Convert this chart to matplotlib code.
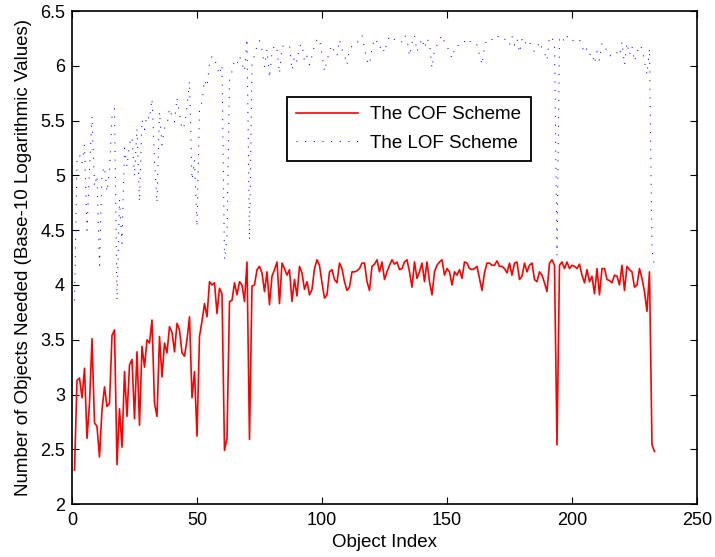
import matplotlib
matplotlib.use("Agg")
import matplotlib.pyplot as plt
import numpy as np

# ── data ──────────────────────────────────────────────────────────────────────

object_index = np.arange(1, 234)

cof_scheme = [
    2.31, 3.13, 3.15, 2.97, 3.24, 2.60, 2.92, 3.51, 2.74, 2.71,
    2.43, 2.86, 3.07, 2.89, 2.92, 3.54, 3.59, 2.36, 2.87, 2.52,
    3.21, 2.80, 3.27, 3.32, 2.78, 3.39, 2.72, 3.44, 3.25, 3.50,
    3.47, 3.68, 2.92, 2.80, 3.53, 3.16, 3.47, 3.38, 3.62, 3.57,
    3.39, 3.65, 3.59, 3.38, 3.35, 3.50, 3.71, 2.97, 3.21, 2.62,
    3.53, 3.67, 3.83, 3.71, 4.03, 4.00, 4.02, 3.74, 3.97, 3.92,
    2.49, 2.60, 3.85, 3.86, 4.02, 3.91, 4.03, 4.00, 3.85, 4.21,
    2.59, 3.99, 4.00, 4.14, 4.17, 4.11, 3.94, 4.12, 3.82, 4.08,
    4.14, 4.21, 3.83, 4.20, 4.15, 4.09, 4.14, 3.85, 4.05, 3.90,
    4.17, 4.11, 3.96, 4.03, 3.91, 3.96, 4.15, 4.23, 4.18, 4.02,
    3.88, 3.91, 4.12, 4.14, 4.05, 4.02, 4.20, 4.15, 4.03, 3.95,
    3.98, 4.12, 4.12, 4.13, 4.15, 4.20, 4.20, 4.03, 3.95, 4.17,
    4.19, 4.23, 4.12, 4.21, 4.05, 4.12, 4.18, 4.23, 4.19, 4.21,
    4.14, 4.15, 4.21, 4.23, 4.12, 3.98, 4.21, 4.06, 4.12, 4.20,
    4.03, 4.21, 4.03, 3.91, 4.12, 4.18, 4.21, 4.23, 4.09, 4.15,
    4.12, 4.00, 4.12, 4.09, 4.14, 4.06, 4.21, 4.20, 4.15, 4.14,
    4.15, 4.17, 4.06, 3.95, 4.11, 4.20, 4.20, 4.18, 4.18, 4.22,
    4.17, 4.17, 4.15, 4.11, 4.20, 4.09, 4.20, 4.21, 4.05, 4.08,
    4.20, 4.12, 4.18, 4.20, 4.05, 4.03, 4.12, 4.09, 4.02, 3.94,
    4.20, 4.23, 4.18, 2.54, 4.18, 4.21, 4.15, 4.21, 4.15, 4.18,
    4.17, 4.15, 4.19, 4.09, 4.02, 4.14, 4.03, 4.08, 3.92, 4.15,
    3.91, 4.15, 4.15, 4.05, 4.04, 4.02, 4.09, 4.08, 4.00, 4.18,
    3.95, 4.17, 4.14, 4.12, 3.98, 4.00, 4.15, 4.06, 3.94, 3.76,
    4.12, 2.54, 2.48,
]

lof_scheme = [
    3.86, 5.13, 5.19, 5.11, 5.28, 4.50, 5.05, 5.54, 4.90, 5.00,
    4.18, 5.02, 5.08, 4.85, 5.05, 5.54, 5.61, 3.86, 4.78, 4.38,
    5.25, 5.08, 5.29, 5.35, 4.99, 5.43, 4.76, 5.51, 5.42, 5.55,
    5.51, 5.70, 5.14, 4.75, 5.58, 5.28, 5.43, 5.46, 5.61, 5.54,
    5.49, 5.71, 5.56, 5.42, 5.46, 5.63, 5.86, 4.96, 5.14, 4.53,
    5.61, 5.67, 5.87, 5.81, 6.02, 6.09, 6.07, 5.99, 5.92, 6.01,
    4.23, 4.44, 5.87, 5.95, 6.05, 6.02, 6.09, 6.02, 5.95, 6.25,
    4.41, 6.02, 6.10, 6.18, 6.23, 6.15, 5.99, 6.15, 5.89, 6.12,
    6.19, 6.16, 5.93, 6.18, 6.18, 6.18, 6.19, 5.96, 6.09, 6.04,
    6.18, 6.20, 6.04, 6.09, 6.01, 6.09, 6.19, 6.24, 6.25, 6.10,
    5.95, 6.05, 6.13, 6.19, 6.12, 6.09, 6.24, 6.15, 6.10, 6.01,
    6.15, 6.18, 6.21, 6.21, 6.24, 6.28, 6.16, 6.05, 6.01, 6.16,
    6.25, 6.22, 6.16, 6.19, 6.12, 6.22, 6.27, 6.27, 6.24, 6.22,
    6.21, 6.22, 6.28, 6.25, 6.09, 6.21, 6.28, 6.13, 6.19, 6.25,
    6.16, 6.25, 6.21, 5.98, 6.15, 6.19, 6.24, 6.28, 6.22, 6.18,
    6.13, 6.07, 6.15, 6.19, 6.18, 6.19, 6.22, 6.25, 6.22, 6.23,
    6.22, 6.19, 6.10, 6.01, 6.18, 6.24, 6.25, 6.24, 6.25, 6.28,
    6.25, 6.24, 6.25, 6.21, 6.19, 6.27, 6.19, 6.25, 6.12, 6.24,
    6.19, 6.24, 6.22, 6.16, 6.13, 6.16, 6.22, 6.16, 6.12, 6.05,
    6.27, 6.25, 6.22, 4.27, 6.25, 6.27, 6.22, 6.27, 6.25, 6.22,
    6.25, 6.25, 6.24, 6.18, 6.12, 6.16, 6.10, 6.12, 6.02, 6.13,
    6.05, 6.21, 6.19, 6.13, 6.09, 6.10, 6.13, 6.12, 6.09, 6.22,
    6.01, 6.21, 6.10, 6.18, 6.04, 6.12, 6.19, 6.16, 6.04, 5.92,
    6.16, 4.32, 4.17,
]

x_ticks = [0, 50, 100, 150, 200, 250]
y_ticks = [2, 2.5, 3, 3.5, 4, 4.5, 5, 5.5, 6, 6.5]
y_tick_labels = ["2", "2.5", "3", "3.5", "4", "4.5", "5", "5.5", "6", "6.5"]

# ── figure ───────────────────────────────────────────────────────────────────

plt.rcParams.update({
    "font.family": ["Liberation Sans", "DejaVu Sans"],
    "font.size": 13,
})

fig = plt.figure(figsize=(7.15, 5.57), dpi=100)
ax = fig.add_axes([0.1007, 0.095, 0.8741, 0.885])

ax.plot(object_index, cof_scheme, color="#ff0000", linewidth=1.2,
        label="The COF Scheme")
ax.plot(object_index, lof_scheme, color="#0000ff", linewidth=0.75,
        linestyle=(0, (1, 7.3)), label="The LOF Scheme")

ax.set_xlim(0, 250)
ax.set_ylim(2, 6.5)
ax.set_xticks(x_ticks)
ax.set_yticks(y_ticks)
ax.set_yticklabels(y_tick_labels)
ax.tick_params(direction="in", length=5, width=0.8, top=True, right=True,
               labelsize=13)
ax.tick_params(axis="x", pad=6)
ax.tick_params(axis="y", pad=5)
for spine in ax.spines.values():
    spine.set_linewidth(1.2)

ax.set_xlabel("Object Index", fontsize=13.5, labelpad=3)
ax.set_ylabel("Number of Objects Needed (Base-10 Logarithmic Values)",
              fontsize=13.5, labelpad=6)

leg = ax.legend(loc="upper left", bbox_to_anchor=(0.344, 0.826),
                fancybox=False, framealpha=1, edgecolor="black",
                handlelength=3.3, handletextpad=0.65, borderpad=0.5,
                labelspacing=0.6, fontsize=13.5, borderaxespad=0)
leg.get_frame().set_linewidth(1.3)

fig.savefig("out.png", dpi=100)
